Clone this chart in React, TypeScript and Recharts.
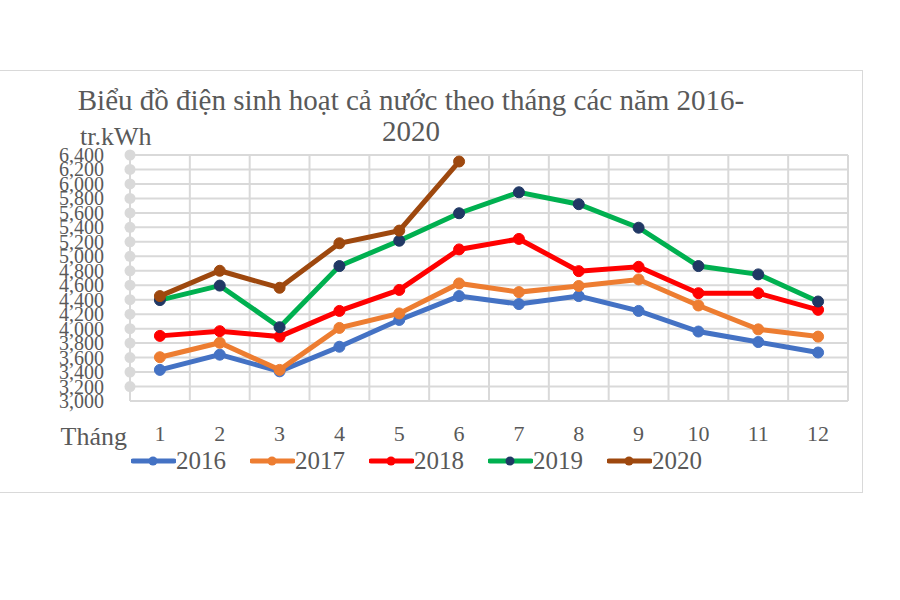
import React from "react";
import {
  CartesianGrid,
  Label,
  Legend,
  Line,
  LineChart,
  XAxis,
  YAxis,
} from "recharts";

const months = [1, 2, 3, 4, 5, 6, 7, 8, 9, 10, 11, 12];
const y2016 = [3430, 3640, 3410, 3750, 4120, 4450, 4340, 4450, 4245, 3960, 3815, 3670];
const y2017 = [3605, 3805, 3430, 4010, 4210, 4625, 4505, 4590, 4680, 4320, 3990, 3890];
const y2018 = [3900, 3965, 3890, 4245, 4535, 5095, 5240, 4795, 4855, 4490, 4490, 4260];
const y2019 = [4395, 4595, 4020, 4865, 5215, 5595, 5885, 5720, 5395, 4865, 4750, 4375];
const y2020 = [4450, 4800, 4565, 5180, 5355, 6310];

const yTicks = [3000, 3200, 3400, 3600, 3800, 4000, 4200, 4400, 4600, 4800, 5000, 5200, 5400, 5600, 5800, 6000, 6200, 6400];
const gridTicks = [0.5, 1.5, 2.5, 3.5, 4.5, 5.5, 6.5, 7.5, 8.5, 9.5, 10.5, 11.5, 12.5];

const series = [
  { key: "2016", color: "#4472C4", dot: "#4472C4" },
  { key: "2017", color: "#ED7D31", dot: "#ED7D31" },
  { key: "2018", color: "#FF0000", dot: "#FF0000" },
  { key: "2019", color: "#00B050", dot: "#203864" },
  { key: "2020", color: "#9E480E", dot: "#9E480E" },
];

const data = months.map((m, i) => ({
  month: m,
  "2016": y2016[i],
  "2017": y2017[i],
  "2018": y2018[i],
  "2019": y2019[i],
  "2020": i < y2020.length ? y2020[i] : null,
}));

const FONT = "'Liberation Serif', 'Times New Roman', serif";
const TEXT = "#595959";

const YTick = (props: any) => {
  const { x, y, payload } = props;
  return (
    <g>
      <text x={x} y={y} dy={7} textAnchor="end" fontSize={20} fill={TEXT} fontFamily={FONT}>
        {payload.value.toLocaleString("en-US")}
      </text>
      {payload.value > 3000 && <circle cx={x + 26} cy={y} r={5.5} fill="#d9d9d9" />}
    </g>
  );
};

const LegendContent = () => (
  <div style={{ display: "flex", fontFamily: FONT, fontSize: 25, color: TEXT }}>
    {series.map((s) => (
      <div key={s.key} style={{ display: "flex", alignItems: "center", width: 119 }}>
        <svg width={45} height={14}>
          <line x1={2} y1={7} x2={43} y2={7} stroke={s.color} strokeWidth={5} strokeLinecap="round" />
          <circle cx={22} cy={7} r={4.5} fill={s.dot} />
        </svg>
        <span>{s.key}</span>
      </div>
    ))}
  </div>
);

export default function App() {
  return (
    <div style={{ position: "absolute", left: 0, top: 0, width: 900, height: 600, background: "#fff" }}>
      <div
        style={{
          position: "absolute",
          left: -1,
          top: 70,
          width: 862,
          height: 421,
          border: "1.5px solid #d9d9d9",
        }}
      />
      <div
        style={{
          position: "absolute",
          left: 0,
          width: 822,
          top: 85,
          textAlign: "center",
          fontFamily: FONT,
          fontSize: 29,
          lineHeight: "31px",
          color: TEXT,
        }}
      >
        Biểu đồ điện sinh hoạt cả nước theo tháng các năm 2016-
        <br />
        2020
      </div>
      <div
        style={{
          position: "absolute",
          left: 80,
          top: 122,
          fontFamily: FONT,
          fontSize: 26,
          color: TEXT,
        }}
      >
        tr.kWh
      </div>
      <LineChart
        width={900}
        height={600}
        data={data}
        margin={{ top: 155, right: 52, left: 60, bottom: 123 }}
        style={{ position: "absolute", left: 0, top: 0 }}
      >
        <CartesianGrid xAxisId="grid" stroke="#d9d9d9" strokeWidth={2} />
        <XAxis
          xAxisId="grid"
          type="number"
          dataKey="month"
          domain={[0.5, 12.5]}
          ticks={gridTicks}
          hide
        />
        <XAxis
          type="number"
          dataKey="month"
          domain={[0.5, 12.5]}
          ticks={months}
          interval={0}
          height={46}
          axisLine={{ stroke: "#d9d9d9", strokeWidth: 2 }}
          tickLine={false}
          tickSize={0}
          tickMargin={24}
          tick={{ fontSize: 22, fill: TEXT, fontFamily: FONT }}
        >
          <Label
            value="Tháng"
            position="left"
            offset={3}
            dy={12}
            style={{ fontSize: 26, fill: TEXT, fontFamily: FONT }}
          />
        </XAxis>
        <YAxis
          domain={[3000, 6400]}
          ticks={yTicks}
          interval={0}
          width={70}
          axisLine={false}
          tickLine={false}
          tickSize={0}
          tickMargin={26}
          tick={<YTick />}
        />
        <Legend
          verticalAlign="bottom"
          height={30}
          content={<LegendContent />}
          wrapperStyle={{ left: 131, width: "auto" }}
        />
        {series.map((s) => (
          <Line
            key={s.key}
            dataKey={s.key}
            stroke={s.color}
            strokeWidth={5}
            dot={{ r: 5.5, fill: s.dot, stroke: s.dot, strokeWidth: 1 }}
            activeDot={false}
            connectNulls={false}
            isAnimationActive={false}
          />
        ))}
      </LineChart>
    </div>
  );
}
